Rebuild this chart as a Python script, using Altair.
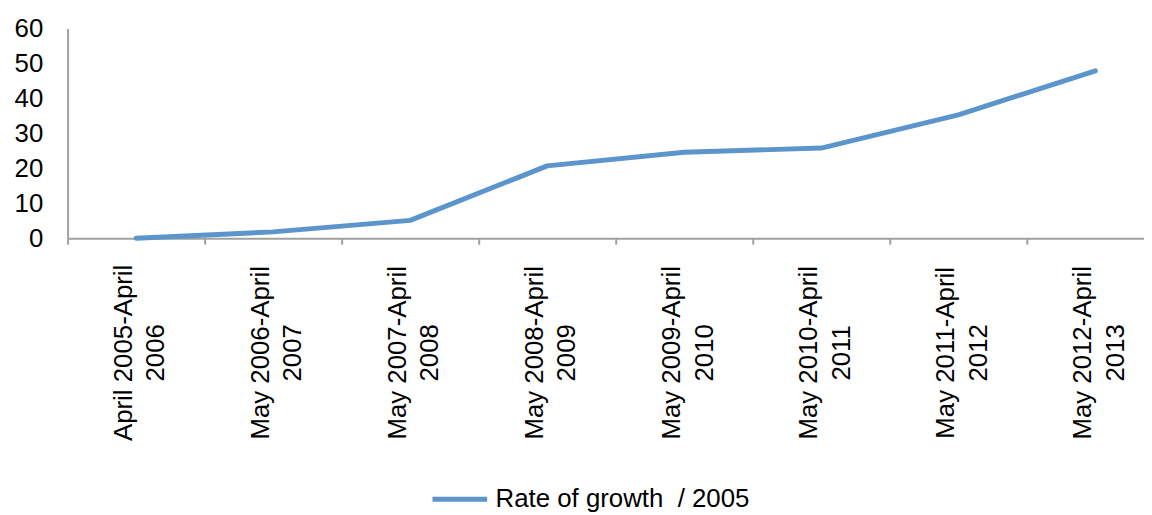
import altair as alt
import pandas as pd

categories = [
    "April 2005-April 2006",
    "May 2006-April 2007",
    "May 2007-April 2008",
    "May 2008-April 2009",
    "May 2009-April 2010",
    "May 2010-April 2011",
    "May 2011-April 2012",
    "May 2012-April 2013",
]
values = [0, 1.8, 5.1, 20.7, 24.6, 25.8, 35.3, 47.9]
series_name = "Rate of growth\u00a0 / 2005"
y_ticks = [0, 10, 20, 30, 40, 50, 60]

df = pd.DataFrame({"period": categories, "value": values, "series": series_name})

FONT = "Liberation Sans"
AXIS_GRAY = "#a0a0a0"
LINE_BLUE = "#5b95cc"

label_expr = (
    "[slice(datum.label, 0, lastindexof(datum.label, ' ')), "
    "slice(datum.label, lastindexof(datum.label, ' ') + 1)]"
)

chart = (
    alt.Chart(df)
    .mark_line(strokeWidth=5, strokeCap="round", strokeJoin="round")
    .encode(
        x=alt.X(
            "period:N",
            sort=None,
            scale=alt.Scale(type="band", paddingInner=0, paddingOuter=0, range=[0, 1104]),
            axis=alt.Axis(
                title=None,
                labelAngle=-90,
                labelAlign="center",
                labelBaseline="middle",
                labelPadding=109,
                labelLineHeight=33,
                labelOffset=-13,
                labelFontSize=26,
                labelFont=FONT,
                labelColor="black",
                labelExpr=label_expr,
                labelLimit=0,
                tickBand="extent",
                tickSize=6,
                tickColor=AXIS_GRAY,
                tickWidth=2,
                domainColor=AXIS_GRAY,
                domainWidth=2,
                grid=False,
            ),
        ),
        y=alt.Y(
            "value:Q",
            scale=alt.Scale(domain=[0, 60], nice=False),
            axis=alt.Axis(
                title=None,
                values=y_ticks,
                labelFontSize=26,
                labelFont=FONT,
                labelColor="black",
                labelPadding=25,
                ticks=False,
                domainColor=AXIS_GRAY,
                domainWidth=2,
                grid=False,
            ),
        ),
        color=alt.Color(
            "series:N",
            scale=alt.Scale(domain=[series_name], range=[LINE_BLUE]),
            legend=alt.Legend(
                title=None,
                orient="none",
                legendX=365,
                legendY=444,
                symbolType="stroke",
                symbolSize=3025,
                symbolStrokeWidth=5,
                labelFontSize=26,
                labelFont=FONT,
                labelColor="black",
                labelOffset=6,
                labelLimit=0,
                padding=0,
            ),
        ),
    )
    .properties(
        width=1076,
        height=211,
        autosize=alt.AutoSizeParams(type="none"),
        padding={"left": 60, "top": 19, "right": 8, "bottom": 277},
    )
    .configure_view(stroke=None)
)

chart.save("out.html", embed_options={"renderer": "svg", "actions": False})
